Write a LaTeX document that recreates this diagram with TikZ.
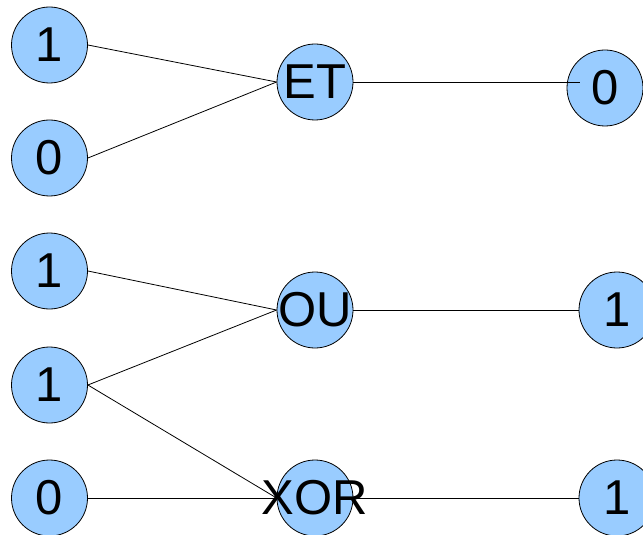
\documentclass[tikz,border=0pt]{standalone}
\usepackage{fontspec}
\setmainfont{Liberation Sans}
\begin{document}
\begin{tikzpicture}[x=1bp,y=-1bp,
  circ/.style={circle,draw=black,line width=0.8bp,fill={rgb,255:red,153;green,204;blue,255},
    minimum size=76bp,inner sep=0pt,font=\fontsize{49bp}{49bp}\selectfont},
  wire/.style={draw=black,line width=0.8bp}]
\useasboundingbox (0,0) rectangle (643,535);
\clip (0,0) rectangle (643,535);
\node[circ] (a1) at (49.5,45) {\makebox[0pt]{1}};
\node[circ] (a0) at (49.5,158) {\makebox[0pt]{0}};
\node[circ] (b1) at (49.5,271) {\makebox[0pt]{1}};
\node[circ] (b2) at (49.5,385) {\makebox[0pt]{1}};
\node[circ] (b3) at (49.5,498) {\makebox[0pt]{0}};
\node[circ] (et) at (315,82) {\makebox[0pt]{ET}};
\node[circ] (ou) at (315,310) {\makebox[0pt]{OU}};
\node[circ] (xor) at (315,498) {\makebox[0pt]{XOR}};
\node[circ] (r0) at (605,88) {\makebox[0pt]{0}};
\node[circ] (r1) at (617,310) {\makebox[0pt]{1}};
\node[circ] (r2) at (617,498) {\makebox[0pt]{1}};
\coordinate (c0) at (580,82);
\draw[wire] (a1.east) -- (et.west);
\draw[wire] (a0.east) -- (et.west);
\draw[wire] (et.east) -- (c0);
\draw[wire] (b1.east) -- (ou.west);
\draw[wire] (b2.east) -- (ou.west);
\draw[wire] (ou.east) -- (r1.west);
\draw[wire] (b2.east) -- (xor.west);
\draw[wire] (b3.east) -- (xor.west);
\draw[wire] (xor.east) -- (r2.west);
\end{tikzpicture}
\end{document}
